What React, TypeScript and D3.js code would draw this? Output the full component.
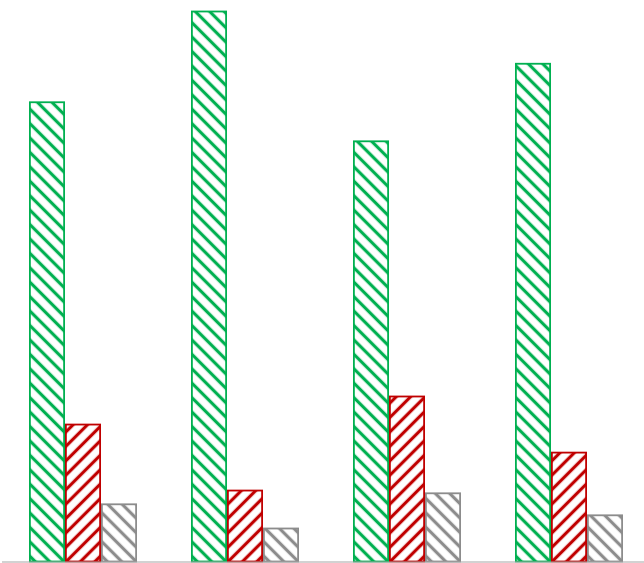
import React from "react";
import * as d3 from "d3";

const categories = ["A", "B", "C", "D"];
const seriesNames = ["S1", "S2", "S3"];
const s1Values = [83.5, 100, 76.4, 90.5];
const s2Values = [24.9, 12.9, 30.0, 19.8];
const s3Values = [10.4, 6.0, 12.4, 8.4];
const seriesValues = [s1Values, s2Values, s3Values];
const colors = ["#00b050", "#c00000", "#8c8c8c"];
const angles = [-45, 45, -45];

export default function App() {
  const W = 644;
  const H = 563;
  const x = d3
    .scaleBand<string>()
    .domain(categories)
    .range([2, 650])
    .paddingInner(1 / 3)
    .paddingOuter(1 / 6);
  const xs = d3
    .scaleBand<string>()
    .domain(seriesNames)
    .range([0, x.bandwidth()]);
  const y = d3.scaleLinear().domain([0, 100]).range([561.5, 11.5]);
  const period = 10.2;
  return (
    <svg
      width={W}
      height={H}
      style={{ position: "absolute", left: 0, top: 0 }}
    >
      <defs>
        {seriesNames.map((s, i) => (
          <pattern
            key={s}
            id={`pat${i}`}
            patternUnits="userSpaceOnUse"
            width={period}
            height={period}
            patternTransform={`rotate(${angles[i]})`}
          >
            <rect width={period} height={period} fill="#fff" />
            <line
              x1={period / 2}
              y1={-1}
              x2={period / 2}
              y2={period + 1}
              stroke={colors[i]}
              strokeWidth={3.2}
            />
          </pattern>
        ))}
      </defs>
      {categories.map((c, ci) => (
        <g key={c} transform={`translate(${x(c)},0)`}>
          {seriesNames.map((s, si) => {
            const v = seriesValues[si][ci];
            const x0 = xs(s)!;
            return (
              <rect
                key={s}
                x={x0 + 0.9}
                y={y(v)}
                width={xs.bandwidth() - 1.8}
                height={y(0) - y(v)}
                fill={`url(#pat${si})`}
                stroke={colors[si]}
                strokeWidth={1.8}
              />
            );
          })}
        </g>
      ))}
      <line x1={2} x2={644} y1={562} y2={562} stroke="#a6a6a6" strokeWidth={1.2} />
    </svg>
  );
}
